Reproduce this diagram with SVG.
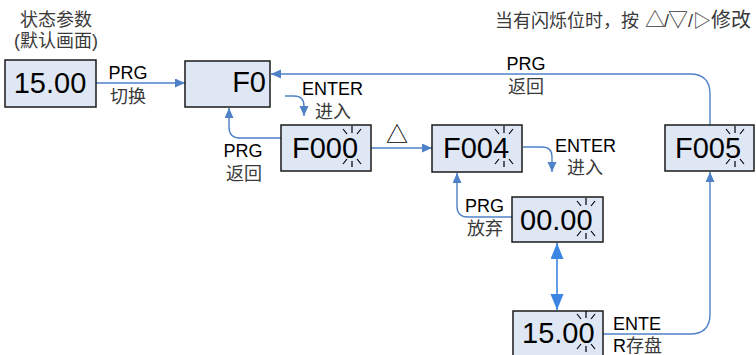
<svg xmlns="http://www.w3.org/2000/svg" width="756" height="355" viewBox="0 0 756 355">
<style>
text{font-family:"Liberation Sans","Noto Sans CJK SC",sans-serif;}
.box{fill:#dfe7f4;stroke:#1a1a1a;stroke-width:1.5;}
.big{font-size:29px;fill:#000;}
.lab{font-size:18px;fill:#000;}
.cn{font-size:18px;fill:#3a3a3a;}
.c{text-anchor:middle;}
.con{fill:none;stroke:#4f81c7;stroke-width:1.4;}
.con2{fill:none;stroke:#3c85e2;stroke-width:1.6;}
.sp{stroke:#000;stroke-width:1.2;fill:none;}
</style>
<defs>
<marker id="ah" markerUnits="userSpaceOnUse" markerWidth="11" markerHeight="10" refX="10" refY="4.5" orient="auto"><path d="M0,0 L10,4.5 L0,9 z" fill="#4f81c7"/></marker>
<marker id="ah2" markerUnits="userSpaceOnUse" markerWidth="17" markerHeight="14" refX="16" refY="6.5" orient="auto-start-reverse"><path d="M0,0 L16,6.5 L0,13 z" fill="#3c85e2"/></marker>
<g id="spark" class="sp">
<path d="M0,-21 L0,-14 M-9,-18 L-5,-13 M9,-18 L5,-13 M0,14 L0,20 M-9,17 L-5,12 M9,17 L5,12"/>
</g>
</defs>

<text class="cn c" x="56" y="26">状态参数</text>
<text class="cn c" x="56" y="47">(默认画面)</text>
<text class="cn" x="495" y="27">当有闪烁位时，按<tspan x="645" style="font-size:20px">△</tspan><tspan x="664">/</tspan><tspan x="668" style="font-size:20px">▽</tspan><tspan x="688">/</tspan><tspan x="693" style="font-size:18px">▷</tspan><tspan x="711" style="font-size:20px">修改</tspan></text>

<g id="connectors">
<path class="con" d="M96,83 L185,83" marker-end="url(#ah)"/>
<path class="con" d="M710,125 L710,94 Q710,74 690,74 L271,74" marker-end="url(#ah)"/>
<path class="con" d="M285,96 L294,96 Q304,96 304,106 L304,116" marker-end="url(#ah)"/>
<path class="con" d="M281,138 L240,138 Q229,138 229,127 L229,108" marker-end="url(#ah)"/>
<path class="con" d="M371,148 L432,148" marker-end="url(#ah)"/>
<path class="con" d="M523,147 L542,147 Q552,147 552,157 L552,172" marker-end="url(#ah)"/>
<path class="con" d="M512,217 L468,217 Q457,217 457,206 L457,173" marker-end="url(#ah)"/>
<path class="con2" d="M557,243 L557,310" marker-start="url(#ah2)" marker-end="url(#ah2)"/>
<path class="con" d="M603,334 L690,334 Q710,334 710,314 L710,172" marker-end="url(#ah)"/>
</g>

<g id="labels">
<text class="lab c" x="128" y="79">PRG</text>
<text class="cn c" x="128" y="103">切换</text>
<text class="lab c" x="526" y="70">PRG</text>
<text class="cn c" x="526" y="93">返回</text>
<text class="lab" x="302" y="95">ENTER</text>
<text class="cn" x="315" y="118">进入</text>
<text class="lab c" x="243" y="157">PRG</text>
<text class="cn c" x="244" y="180">返回</text>
<text class="c" x="397" y="142" style="font-size:22px;fill:#000;">△</text>
<text class="lab" x="555" y="152">ENTER</text>
<text class="cn" x="567" y="174">进入</text>
<text class="lab" x="465" y="212">PRG</text>
<text class="cn" x="467" y="235">放弃</text>
<text class="lab" x="613" y="330">ENTE</text>
<text class="lab" x="613" y="352">R<tspan style="fill:#3a3a3a">存盘</tspan></text>
</g>

<g id="n1"><rect class="box" x="5" y="60" width="91" height="47"/><text class="big c" x="50" y="93">15.00</text></g>
<g id="nF0"><rect class="box" x="185" y="61" width="85" height="46"/><text class="big" x="266" y="92" text-anchor="end">F0</text></g>
<g id="nF000"><rect class="box" x="281" y="125" width="90" height="46"/><text class="big" x="292" y="158">F000</text><use href="#spark" x="352" y="147"/></g>
<g id="nF004"><rect class="box" x="432" y="125" width="90" height="47"/><text class="big" x="443" y="158">F004</text><use href="#spark" x="504" y="147"/></g>
<g id="nF005"><rect class="box" x="665" y="125" width="89" height="46"/><text class="big" x="675" y="158">F005</text><use href="#spark" x="735" y="147"/></g>
<g id="n0000"><rect class="box" x="512" y="197" width="91" height="45"/><text class="big" x="520" y="230">00.00</text><use href="#spark" x="586" y="219"/></g>
<g id="n1500b"><rect class="box" x="513" y="311" width="90" height="50"/><text class="big" x="522" y="343">15.00</text><use href="#spark" x="586" y="332"/></g>
</svg>
